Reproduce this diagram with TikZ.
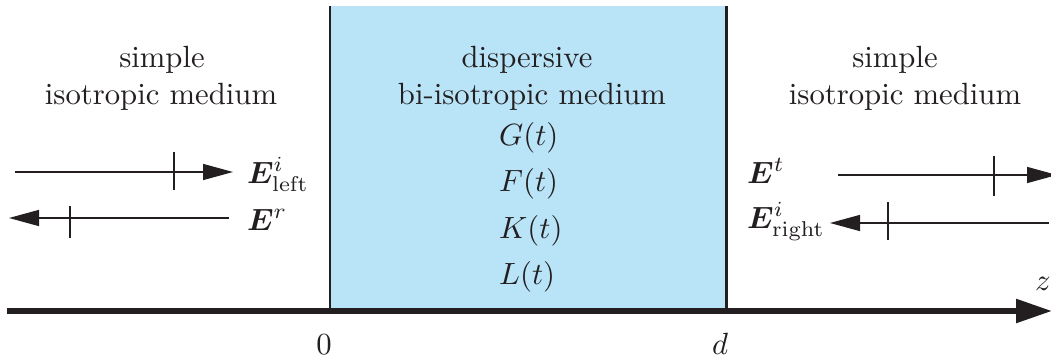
\documentclass[tikz,border=0pt]{standalone}
\usepackage{bm}
\usetikzlibrary{arrows.meta}
\definecolor{ink}{RGB}{35,31,32}
\definecolor{slab}{RGB}{185,228,248}
\newcommand\enlargetext[1]{\scalebox{3.07}{#1}}
\begin{document}
\begin{tikzpicture}[x=1pt,y=-1pt,
  txt/.style={font=\fontsize{10}{12}\selectfont, inner sep=0pt, anchor=base, text=ink},
  lbl/.style={txt, anchor=base west},
  wave/.style={draw=ink, line width=1.5pt, -{Triangle[length=30pt,width=16pt]}},
  tickmark/.style={draw=ink, line width=1.5pt},
  wall/.style={draw=ink, line width=2.8pt},
  axis/.style={draw=ink, line width=5.5pt, -{Triangle[length=36pt,width=23pt]}}]
\useasboundingbox (0,0) rectangle (1051,358);
% slab
\fill[slab] (331,6) rectangle (726,308);
\coordinate (w1a) at (330,6);   \coordinate (w1b) at (330,311);
\coordinate (w2a) at (726.5,6); \coordinate (w2b) at (726.5,311);
\draw[wall] (w1a) -- (w1b);
\draw[wall] (w2a) -- (w2b);
% axis
\coordinate (ax0) at (7,311); \coordinate (ax1) at (1052,311);
\draw[axis] (ax0) -- (ax1);
\node[txt] (z) at (1043,290) {\enlargetext{$z$}};
\node[txt] (zero) at (324,354) {\enlargetext{$0$}};
\node[txt] (dd) at (720,354) {\enlargetext{$d$}};
% media texts
\node[txt] (ls1) at (162,68) {\enlargetext{simple}};
\node[txt] (ls2) at (161,105) {\enlargetext{isotropic medium}};
\node[txt] (ms1) at (527,68) {\enlargetext{dispersive}};
\node[txt] (ms2) at (532,105) {\enlargetext{bi-isotropic medium}};
\node[txt] (rs1) at (895,68) {\enlargetext{simple}};
\node[txt] (rs2) at (905,105) {\enlargetext{isotropic medium}};
\node[lbl] (G) at (499,146) {\enlargetext{$G(t)$}};
\node[lbl] (F) at (499,192) {\enlargetext{$F(t)$}};
\node[lbl] (K) at (499,238) {\enlargetext{$K(t)$}};
\node[lbl] (L) at (499,284) {\enlargetext{$L(t)$}};
% field labels
\node[lbl] (Eil) at (247,183) {\enlargetext{$\bm{E}^{i}_{\mathrm{left}}$}};
\node[lbl] (Er) at (247,230) {\enlargetext{$\bm{E}^{r}$}};
\node[lbl] (Et) at (747,183) {\enlargetext{$\bm{E}^{t}$}};
\node[lbl] (Eir) at (747,228) {\enlargetext{$\bm{E}^{i}_{\mathrm{right}}$}};
% left waves
\coordinate (a0) at (15,172);  \coordinate (a1) at (233,172);
\coordinate (ta0) at (174,152); \coordinate (ta1) at (174,190);
\draw[wave] (a0) -- (a1);
\draw[tickmark] (ta0) -- (ta1);
\coordinate (b0) at (229,218); \coordinate (b1) at (9,218);
\coordinate (tb0) at (70,206); \coordinate (tb1) at (70,238);
\draw[wave] (b0) -- (b1);
\draw[tickmark] (tb0) -- (tb1);
% right waves
\coordinate (c0) at (838,175); \coordinate (c1) at (1057,175);
\coordinate (tc0) at (994,156); \coordinate (tc1) at (994,196);
\draw[wave] (c0) -- (c1);
\draw[tickmark] (tc0) -- (tc1);
\coordinate (d0) at (1049,223); \coordinate (d1) at (830,223);
\coordinate (td0) at (888,202); \coordinate (td1) at (888,240);
\draw[wave] (d0) -- (d1);
\draw[tickmark] (td0) -- (td1);
\end{tikzpicture}
\end{document}
